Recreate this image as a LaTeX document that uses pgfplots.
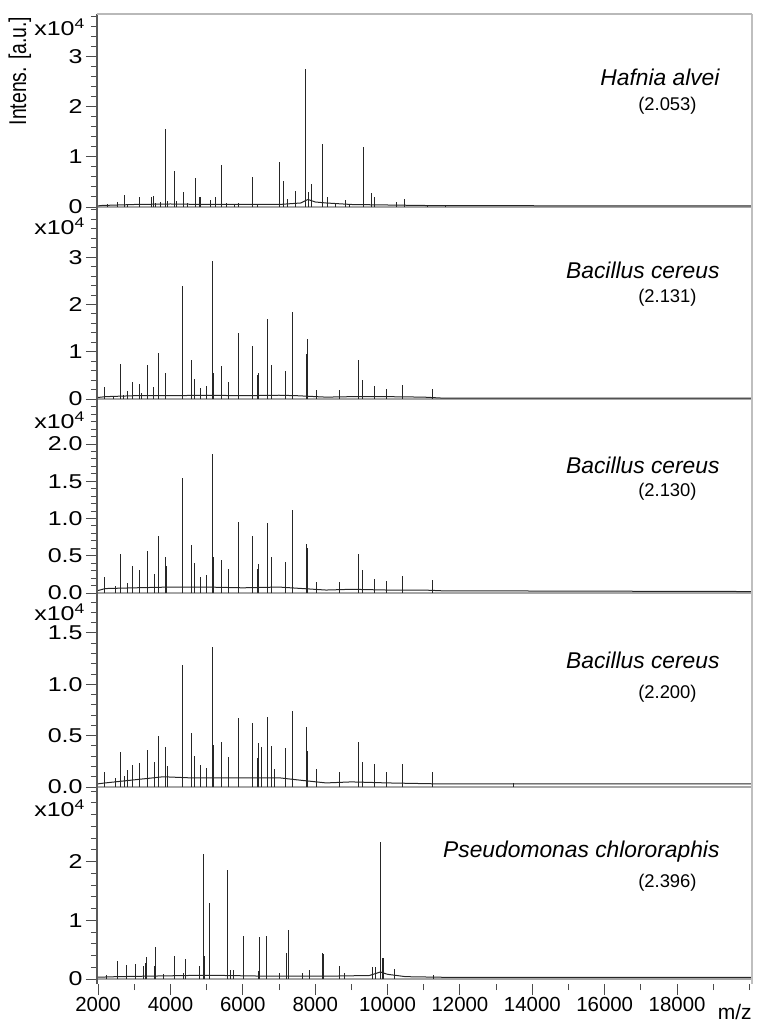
\documentclass[border=0pt]{standalone}
\usepackage{fontspec}
\setmainfont{Liberation Sans}
\usepackage{graphicx}
\usepackage{pgfplots}
\usepackage{pgfplotstable}
\pgfplotsset{compat=1.18}

% peak lists: m/z and intensity (x10^4)
\pgfplotstableread{
mz h
2250 0.06
2540 0.10
2727 0.24
2800 0.05
3151 0.19
3480 0.19
3537 0.22
3600 0.08
3713 0.10
3869 1.56
3920 0.12
4099 0.72
4160 0.12
4366 0.30
4480 0.08
4679 0.58
4790 0.20
4827 0.20
5120 0.14
5250 0.19
5416 0.83
5550 0.08
5780 0.06
5890 0.07
6262 0.59
6400 0.06
7008 0.90
7128 0.52
7238 0.16
7459 0.31
7745 2.75
7820 0.30
7911 0.45
8196 1.26
8343 0.19
8550 0.06
8824 0.14
8950 0.06
9347 1.19
9558 0.27
9650 0.19
10249 0.09
10479 0.15
11100 0.04
11600 0.04
}\peaksA

\pgfplotstableread{
mz h
2175 0.25
2420 0.06
2608 0.74
2700 0.08
2820 0.17
2957 0.37
3151 0.32
3200 0.12
3362 0.72
3537 0.26
3666 0.97
3869 0.54
4329 2.39
4587 0.82
4652 0.42
4817 0.23
4983 0.27
5157 2.92
5203 0.56
5424 0.70
5617 0.35
5886 1.40
6272 1.12
6392 0.51
6438 0.56
6687 1.69
6797 0.72
7184 0.59
7386 1.85
7754 0.95
7791 1.28
8022 0.19
8676 0.19
9200 0.82
9310 0.40
9633 0.27
9983 0.21
10416 0.29
11234 0.22
}\peaksB

\pgfplotstableread{
mz h
2175 0.22
2470 0.09
2608 0.52
2820 0.14
2957 0.36
3151 0.31
3362 0.57
3555 0.26
3666 0.76
3869 0.48
3895 0.36
4329 1.54
4587 0.64
4652 0.40
4817 0.22
4983 0.24
5157 1.86
5203 0.48
5424 0.44
5617 0.32
5886 0.95
6272 0.77
6392 0.32
6438 0.39
6687 0.94
6797 0.48
7184 0.42
7386 1.11
7754 0.66
7791 0.60
8022 0.15
8676 0.15
9200 0.52
9310 0.31
9633 0.19
9983 0.16
10416 0.23
11234 0.17
}\peaksC

\pgfplotstableread{
mz h
2175 0.15
2470 0.09
2608 0.34
2720 0.11
2820 0.17
2957 0.21
3151 0.23
3362 0.36
3555 0.24
3666 0.50
3869 0.39
3920 0.20
4329 1.19
4587 0.53
4652 0.30
4817 0.21
4983 0.19
5157 1.36
5203 0.41
5424 0.44
5617 0.29
5886 0.67
6272 0.62
6392 0.28
6438 0.43
6512 0.39
6687 0.68
6797 0.40
6880 0.18
7184 0.38
7386 0.74
7754 0.58
7791 0.35
8022 0.18
8676 0.15
9200 0.44
9310 0.24
9633 0.22
9983 0.15
10416 0.22
11234 0.15
13471 0.04
}\peaksD

\pgfplotstableread{
mz h
2239 0.07
2543 0.31
2792 0.24
3022 0.26
3261 0.23
3300 0.28
3344 0.38
3560 0.22
3593 0.55
3800 0.08
4108 0.40
4350 0.10
4421 0.34
4790 0.22
4900 2.13
4940 0.40
5066 1.30
5090 0.27
5582 1.85
5650 0.16
5750 0.16
6014 0.74
6420 0.13
6474 0.71
6649 0.74
7000 0.10
7194 0.44
7257 0.84
7650 0.11
7838 0.15
8205 0.45
8240 0.42
8683 0.23
8800 0.10
9580 0.21
9658 0.21
9808 2.34
9850 0.35
9880 0.35
10189 0.17
11267 0.07
}\peaksE

\pgfplotsset{
  spec/.style={
    scale only axis, width=327.5pt, height=97pt,
    xmin=1970, xmax=20070, clip=false,
    separate axis lines,
    x axis line style={draw=none},
    y axis line style={draw=none},
    ytick pos=left, tick align=outside,
    major tick length=5.5pt, minor tick length=3pt,
    tick style={gray!60!black, line width=0.5pt},
    xmajorticks=false, xminorticks=false,
    scaled ticks=false,
    /pgf/number format/1000 sep={},
    /pgf/number format/assume math mode=true,
    yticklabel style={font=\fontsize{10}{12}\selectfont, inner sep=1.5pt},
    yticklabel={\scalebox{1.25}[1]{\pgfmathprintnumber{\tick}}},
  },
  onedec/.style={/pgf/number format/.cd, fixed, fixed zerofill, precision=1},
  peak/.style={ycomb, black!85, line width=0.5pt, no marks},
  base/.style={black!85, line width=0.5pt, no marks},
  zero/.style={gray!70, line width=0.9pt, no marks, forget plot},
}

\newcommand{\frameit}{%
  \draw[gray!70!black, line width=0.6pt] (rel axis cs:0,0) -- (rel axis cs:0,1);
  \draw[gray!50, line width=0.6pt] (rel axis cs:1,0) -- (rel axis cs:1,1);}
\newcommand{\expo}[1]{\node[anchor=north east, inner sep=0pt, xshift=-5.5pt, yshift=#1,
  font=\fontsize{10}{12}\selectfont] at (rel axis cs:0,1) {\scalebox{1.25}[1]{x10\textsuperscript{4}}};}
\newcommand{\species}[4]{%
  \node[anchor=east, inner sep=0pt, font=\fontsize{11.4}{13}\selectfont\itshape] at (rel axis cs:0.951,#2) {#1};
  \node[anchor=east, inner sep=0pt, font=\fontsize{9.2}{11}\selectfont] at (rel axis cs:0.916,#4) {#3};}

\begin{document}
\begin{tikzpicture}
\useasboundingbox (-48.5pt,-512pt) rectangle (330.5pt,0pt);

% Hafnia alvei
\begin{axis}[spec, at={(0,-7pt)}, anchor=north west,
  ymin=-0.02, ymax=3.84, ytick={0,1,2,3}, minor ytick={0.2,0.4,...,3.8}]
\addplot[zero] coordinates {(1970,0) (20070,0)};
\addplot[base] coordinates {(1970,0.02) (2100,0.03) (3000,0.05) (4000,0.06) (5000,0.05) (6000,0.05) (7000,0.05) (7600,0.08) (7800,0.15) (8000,0.10) (8300,0.08) (9000,0.05) (10000,0.04) (11000,0.03) (14000,0.025) (20070,0.02)};
\addplot[peak] table[x=mz, y=h] {\peaksA};
\frameit
\draw[gray!55, line width=0.6pt] (rel axis cs:0,1) -- (rel axis cs:1,1);
\expo{-2pt}
\node[rotate=90, inner sep=0pt, font=\fontsize{9.7}{11}\selectfont] at (rel axis cs:-0.1176,0.706) {\scalebox{1}[1.25]{Intens. [a.u.]}};
\species{Hafnia alvei}{0.675}{(2.053)}{0.526}
\end{axis}

% Bacillus cereus 1
\begin{axis}[spec, at={(0,-104pt)}, anchor=north west,
  ymin=-0.063, ymax=4.04, ytick={0,1,2,3}, minor ytick={0.2,0.4,...,4.0}]
\addplot[zero] coordinates {(1970,0) (20070,0)};
\addplot[base] coordinates {(1970,0.03) (2200,0.05) (3000,0.07) (4000,0.07) (5000,0.08) (6000,0.07) (7000,0.08) (7500,0.07) (8300,0.04) (9000,0.05) (10000,0.05) (11000,0.04) (11500,0.02) (20070,0.02)};
\addplot[peak] table[x=mz, y=h] {\peaksB};
\frameit
\expo{-4.5pt}
\species{Bacillus cereus}{0.68}{(2.131)}{0.54}
\end{axis}

% Bacillus cereus 2
\begin{axis}[spec, onedec, at={(0,-201pt)}, anchor=north west,
  ymin=-0.04, ymax=2.564, ytick={0,0.5,1.0,1.5,2.0}, minor ytick={0.1,0.2,...,2.5}]
\addplot[zero] coordinates {(1970,0) (20070,0)};
\addplot[base] coordinates {(1970,0.03) (2200,0.06) (3000,0.07) (4000,0.08) (5000,0.08) (6000,0.07) (7000,0.08) (8300,0.04) (9000,0.05) (10000,0.04) (11000,0.04) (11500,0.03) (20070,0.02)};
\addplot[peak] table[x=mz, y=h] {\peaksC};
\frameit
\expo{-4.5pt}
\species{Bacillus cereus}{0.675}{(2.130)}{0.536}
\end{axis}

% Bacillus cereus 3
\begin{axis}[spec, onedec, at={(0,-298pt)}, anchor=north west,
  ymin=-0.029, ymax=1.86, ytick={0,0.5,1.0,1.5}, minor ytick={0.1,0.2,...,1.8}]
\addplot[zero] coordinates {(1970,0) (20070,0)};
\addplot[base] coordinates {(1970,0.03) (2200,0.04) (3000,0.07) (3800,0.10) (4500,0.09) (5500,0.09) (6500,0.09) (7000,0.09) (7500,0.07) (8300,0.04) (9000,0.05) (10000,0.04) (11500,0.03) (20070,0.03)};
\addplot[peak] table[x=mz, y=h] {\peaksD};
\frameit
\expo{-3.5pt}
\species{Bacillus cereus}{0.67}{(2.200)}{0.495}
\end{axis}

% Pseudomonas chlororaphis
\begin{axis}[spec, at={(0,-395pt)}, anchor=north west,
  ymin=-0.085, ymax=3.22, ytick={0,1,2}, minor ytick={0.2,0.4,...,3.2},
  xmajorticks=true, xminorticks=true, xtick pos=bottom,
  xtick={2000,4000,6000,8000,10000,12000,14000,16000,18000},
  minor xtick={3000,5000,7000,9000,11000,13000,15000,17000,19000,20000},
  xticklabel style={font=\fontsize{10.2}{12}\selectfont, inner sep=1pt}]
\addplot[zero] coordinates {(1970,0) (20070,0)};
\addplot[base] coordinates {(1970,0.03) (2500,0.04) (3500,0.05) (4500,0.06) (5500,0.06) (6500,0.05) (7500,0.05) (8500,0.05) (9500,0.06) (9800,0.12) (10000,0.08) (10500,0.04) (11500,0.03) (20070,0.03)};
\addplot[peak] table[x=mz, y=h] {\peaksE};
\frameit
\expo{-4.5pt}
\species{Pseudomonas chlororaphis}{0.68}{(2.396)}{0.52}
\node[anchor=east, inner sep=0pt, xshift=0pt, yshift=-14pt, font=\fontsize{10.5}{12}\selectfont] at (rel axis cs:1,0) {m/z};
\end{axis}
\end{tikzpicture}
\end{document}
